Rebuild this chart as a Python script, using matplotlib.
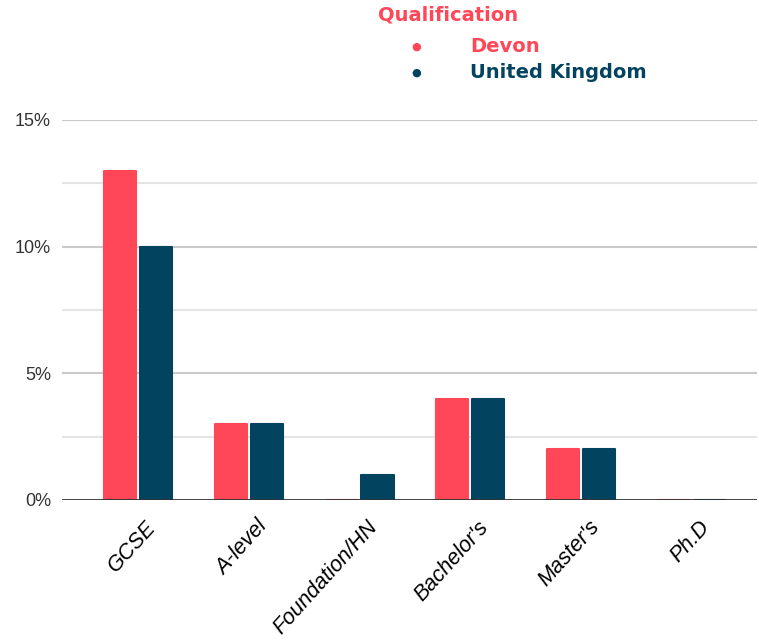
"""Qualification share: Devon vs United Kingdom."""
import matplotlib
matplotlib.use('Agg')
import matplotlib.pyplot as plt
import matplotlib.transforms as mtransforms
import numpy as np

RED = '#ff4757'
NAVY = '#02445f'
OUT = 'out.png'

categories = ['GCSE', 'A-level', 'Foundation/HN', "Bachelor's", "Master's", 'Ph.D']
devon = [13, 3, 0, 4, 2, 0]
uk = [10, 3, 1, 4, 2, 0]
y_ticks = [0, 5, 10, 15]
y_labels = ['0%', '5%', '10%', '15%']

fig = plt.figure(figsize=(7.59, 6.42), dpi=100)
ax = fig.add_axes([62 / 759, 142 / 642, 695 / 759, 380 / 642])

x = np.arange(len(categories))
w = 0.29
off = 0.162
ax.bar(x - off, devon, w, color=RED, edgecolor=RED, linewidth=1.5,
       joinstyle='round', zorder=3)
ax.bar(x + off, uk, w, color=NAVY, edgecolor=NAVY, linewidth=1.5,
       joinstyle='round', zorder=3)

ax.set_xlim(-0.686, 5.587)
ax.set_ylim(0, 15)

# grid: major + lighter half steps
for v in [2.5, 7.5, 12.5]:
    ax.axhline(v, color='#e4e4e4', lw=1.5, zorder=1)
for v in [5, 10, 15]:
    ax.axhline(v, color='#c9c9c9', lw=1.5, zorder=1)
ax.axhline(0, color='#333333', lw=2, zorder=4)

for s in ax.spines.values():
    s.set_visible(False)
ax.set_yticks(y_ticks)
ax.set_yticklabels(y_labels, fontsize=13, color='#333333', family='Liberation Sans')
ax.tick_params(axis='y', length=0, pad=8)
ax.set_xticks(x)
ax.set_xticklabels(categories, rotation=48, ha='right', rotation_mode='anchor',
                   fontsize=15.5, style='italic', color='#000000',
                   family='Liberation Sans')
ax.tick_params(axis='x', length=0, pad=12)
# nudge labels right so their ends sit near the group centre
shift = mtransforms.ScaledTranslation(0.07, 0, fig.dpi_scale_trans)
for lab in ax.get_xticklabels():
    lab.set_transform(lab.get_transform() + shift)

# legend
fig.text(378 / 759, 1 - 15 / 642, 'Qualification', fontsize=14, fontweight='bold',
         color=RED, family='DejaVu Sans', ha='left', va='center')
fig.text(416 / 759, 1 - 47 / 642, '●', fontsize=8, color=RED, ha='center', va='center')
fig.text(470 / 759, 1 - 46 / 642, 'Devon', fontsize=14, fontweight='bold',
         color=RED, family='DejaVu Sans', ha='left', va='center')
fig.text(416 / 759, 1 - 73 / 642, '●', fontsize=8, color=NAVY, ha='center', va='center')
fig.text(470 / 759, 1 - 72 / 642, 'United Kingdom', fontsize=14, fontweight='bold',
         color=NAVY, family='DejaVu Sans', ha='left', va='center')

plt.savefig(OUT, dpi=100, facecolor='white')
plt.close()
